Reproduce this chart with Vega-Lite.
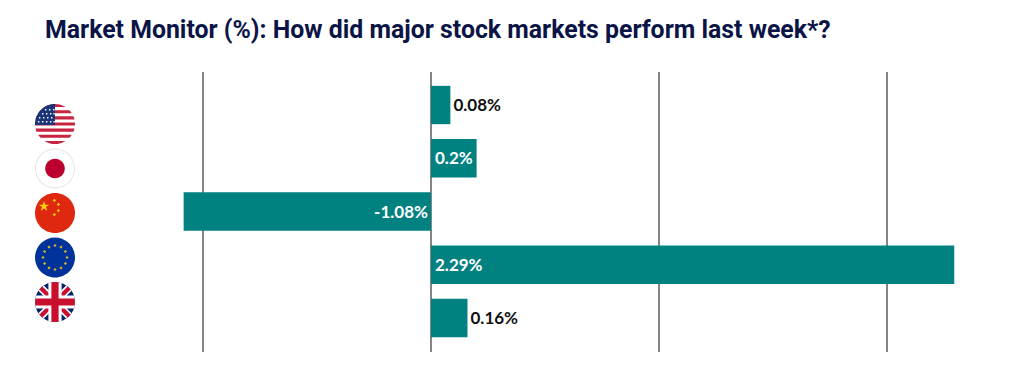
{
"$schema":"https://vega.github.io/schema/vega-lite/v6.json",
"width":1024,"height":280,
"autosize":{"type":"none"},
"padding":{"top":72,"left":0,"right":0,"bottom":28},
"background":"white",
"title":{"text":"Market Monitor (%): How did major stock markets perform last week*?","anchor":"start","frame":"group","dx":45,"offset":28,"font":"Roboto","fontSize":24.85,"fontWeight":700,"color":"#0b1446"},
"datasets":{
"grid":[{"tick":-1},{"tick":0},{"tick":1},{"tick":2}],
"bars":[
{"market":"US","value":0.085,"label":"0.08%"},
{"market":"Japan","value":0.2,"label":"0.2%"},
{"market":"China","value":-1.085,"label":"-1.08%"},
{"market":"Eurozone","value":2.295,"label":"2.29%"},
{"market":"UK","value":0.16,"label":"0.16%"}],
"flags":[
{"market":"US","part":"us-red","slot":"flag"},
{"market":"US","part":"us-blue","slot":"flag"},
{"market":"US","part":"us-stars","slot":"flag"},
{"market":"Japan","part":"jp-ring","slot":"flag"},
{"market":"Japan","part":"jp-disc","slot":"flag"},
{"market":"China","part":"cn-base","slot":"flag"},
{"market":"China","part":"cn-stars","slot":"flag"},
{"market":"Eurozone","part":"eu-base","slot":"flag"},
{"market":"Eurozone","part":"eu-stars","slot":"flag"},
{"market":"UK","part":"uk-base","slot":"flag"},
{"market":"UK","part":"uk-wx","slot":"flag"},
{"market":"UK","part":"uk-rx","slot":"flag"},
{"market":"UK","part":"uk-wc","slot":"flag"},
{"market":"UK","part":"uk-rc","slot":"flag"}]
},
"layer":[
{"data":{"name":"grid"},
 "mark":{"type":"rule","color":"#858585"},
 "encoding":{"size":{"value":2},"x":{"field":"tick","type":"quantitative","axis":null,"scale":{"domain":[-1.8904,2.6009],"range":[0,1024],"nice":false,"zero":false}}}},
{"data":{"name":"bars"},
 "encoding":{
  "y":{"field":"market","type":"nominal","axis":null,"scale":{"type":"band","domain":["US","Japan","China","Eurozone","UK"],"range":[6.4,272.6],"paddingInner":0.28,"paddingOuter":0.14}}
 },
 "layer":[
 {"mark":{"type":"bar","color":"#018180"},
  "encoding":{
   "x":{"field":"value","type":"quantitative","axis":null,"scale":{"domain":[-1.8904,2.6009],"range":[0,1024],"nice":false,"zero":false}}
  }},
 {"transform":[{"filter":"datum.value > 0 && datum.value < 0.1 || datum.market === 'UK'"}],
  "mark":{"type":"text","align":"left","dx":3,"dy":1,"font":"Lato","fontSize":17,"fontWeight":700,"color":"#111111"},
  "encoding":{"x":{"field":"value","type":"quantitative"},"text":{"field":"label"}}},
 {"transform":[{"filter":"datum.market === 'Japan' || datum.market === 'Eurozone'"}],
  "mark":{"type":"text","align":"left","dx":4,"dy":1,"font":"Lato","fontSize":17,"fontWeight":700,"color":"white"},
  "encoding":{"x":{"datum":0,"type":"quantitative"},"text":{"field":"label"}}},
 {"transform":[{"filter":"datum.value < 0"}],
  "mark":{"type":"text","align":"right","dx":-3,"dy":1,"font":"Lato","fontSize":17,"fontWeight":700,"color":"white"},
  "encoding":{"x":{"datum":0,"type":"quantitative"},"text":{"field":"label"}}}
 ]},
{"data":{"name":"flags"},
 "mark":{"type":"point","filled":true,"opacity":1,"strokeWidth":0,"size":1600},
 "encoding":{
  "x":{"field":"slot","type":"nominal","axis":null,"scale":{"type":"point","domain":["flag"],"range":[55,55]}},
  "y":{"field":"market","type":"nominal","axis":null,"scale":{"type":"point","domain":["US","Japan","China","Eurozone","UK"],"range":[52,230],"padding":0}},
  "color":{"field":"part","type":"nominal","legend":null,"scale":{
   "domain":["us-red","us-blue","us-stars","jp-ring","jp-disc","cn-base","cn-stars","eu-base","eu-stars","uk-base","uk-wx","uk-rx","uk-wc","uk-rc"],
   "range":["#c8233f","#1c3578","#ffffff","#e6e6e6","#bc002d","#de2910","#ffcf0a","#003399","#d8b52e","#012169","#ffffff","#c8102e","#ffffff","#c8102e"]}},
  "shape":{"field":"part","type":"nominal","legend":null,"scale":{
   "domain":["us-red","us-blue","us-stars","jp-ring","jp-disc","cn-base","cn-stars","eu-base","eu-stars","uk-base","uk-wx","uk-rx","uk-wc","uk-rc"],
   "range":[
   "M-.533 -.846A1 1 0 0 1 .533 -.846ZM-.722 -.692L.722 -.692A1 1 0 0 1 .843 -.538L-.843 -.538A1 1 0 0 1 -.722 -.692ZM-.923 -.385L.923 -.385A1 1 0 0 1 .973 -.231L-.973 -.231A1 1 0 0 1 -.923 -.385ZM-.997 -.077L.997 -.077A1 1 0 0 1 .997 .077L-.997 .077A1 1 0 0 1 -.997 -.077ZM-.973 .231L.973 .231A1 1 0 0 1 .923 .385L-.923 .385A1 1 0 0 1 -.973 .231ZM-.843 .538L.843 .538A1 1 0 0 1 .722 .692L-.722 .692A1 1 0 0 1 -.843 .538ZM-.533 .846L.533 .846A1 1 0 0 1 -.533 .846Z",
   "M0 .05L-.999 .05A1 1 0 0 1 0 -1Z",
   "M-.5 -.75h.07v.07h-.07zM-.3 -.75h.07v.07h-.07zM-.1 -.75h.07v.07h-.07zM-.65 -.55h.07v.07h-.07zM-.45 -.55h.07v.07h-.07zM-.25 -.55h.07v.07h-.07zM-.08 -.55h.07v.07h-.07zM-.8 -.35h.07v.07h-.07zM-.6 -.35h.07v.07h-.07zM-.4 -.35h.07v.07h-.07zM-.2 -.35h.07v.07h-.07zM-.85 -.15h.07v.07h-.07zM-.65 -.15h.07v.07h-.07zM-.45 -.15h.07v.07h-.07zM-.25 -.15h.07v.07h-.07zM-.08 -.15h.07v.07h-.07z",
   "M-1 0A1 1 0 1 1 1 0A1 1 0 1 1 -1 0ZM-.95 0A.95 .95 0 1 0 .95 0A.95 .95 0 1 0 -.95 0Z",
   "M-.49 0A.49 .49 0 1 1 .49 0A.49 .49 0 1 1 -.49 0Z",
   "M-1 0A1 1 0 1 1 1 0A1 1 0 1 1 -1 0Z",
   "M-.55 -.6L-.489 -.413L-.293 -.413L-.452 -.298L-.391 -.112L-.55 -.227L-.709 -.112L-.648 -.298L-.807 -.413L-.611 -.413ZM-.03 -.71L.05 -.63L-.03 -.55L-.11 -.63ZM.17 -.51L.25 -.43L.17 -.35L.09 -.43ZM.17 -.2L.25 -.12L.17 -.04L.09 -.12ZM-.03 0L.05 .08L-.03 .16L-.11 .08Z",
   "M-1 0A1 1 0 1 1 1 0A1 1 0 1 1 -1 0Z",
   "M0 -.68l.08 .08l-.08 .08l-.08 -.08zM.3 -.6l.08 .08l-.08 .08l-.08 -.08zM.52 -.38l.08 .08l-.08 .08l-.08 -.08zM.6 -.08l.08 .08l-.08 .08l-.08 -.08zM.52 .22l.08 .08l-.08 .08l-.08 -.08zM.3 .44l.08 .08l-.08 .08l-.08 -.08zM0 .52l.08 .08l-.08 .08l-.08 -.08zM-.3 .44l.08 .08l-.08 .08l-.08 -.08zM-.52 .22l.08 .08l-.08 .08l-.08 -.08zM-.6 -.08l.08 .08l-.08 .08l-.08 -.08zM-.52 -.38l.08 .08l-.08 .08l-.08 -.08zM-.3 -.6l.08 .08l-.08 .08l-.08 -.08z",
   "M-1 0A1 1 0 1 1 1 0A1 1 0 1 1 -1 0Z",
   "M-.83 -.56L-.56 -.83L0 -.27L.56 -.83L.83 -.56L.27 0L.83 .56L.56 .83L0 .27L-.56 .83L-.83 .56L-.27 0Z",
   "M-.78 -.63L-.63 -.78L0 -.15L.63 -.78L.78 -.63L.15 0L.78 .63L.63 .78L0 .15L-.63 .78L-.78 .63L-.15 0Z",
   "M-.33 -.944A1 1 0 0 1 .33 -.944L.33 -.33L.944 -.33A1 1 0 0 1 .944 .33L.33 .33L.33 .944A1 1 0 0 1 -.33 .944L-.33 .33L-.944 .33A1 1 0 0 1 -.944 -.33L-.33 -.33Z",
   "M-.18 -.984A1 1 0 0 1 .18 -.984L.18 -.18L.984 -.18A1 1 0 0 1 .984 .18L.18 .18L.18 .984A1 1 0 0 1 -.18 .984L-.18 .18L-.984 .18A1 1 0 0 1 -.984 -.18L-.18 -.18Z"
   ]}}
 }}
],
"resolve":{"scale":{"x":"independent","y":"independent"}},
"config":{"view":{"stroke":null}}
}
